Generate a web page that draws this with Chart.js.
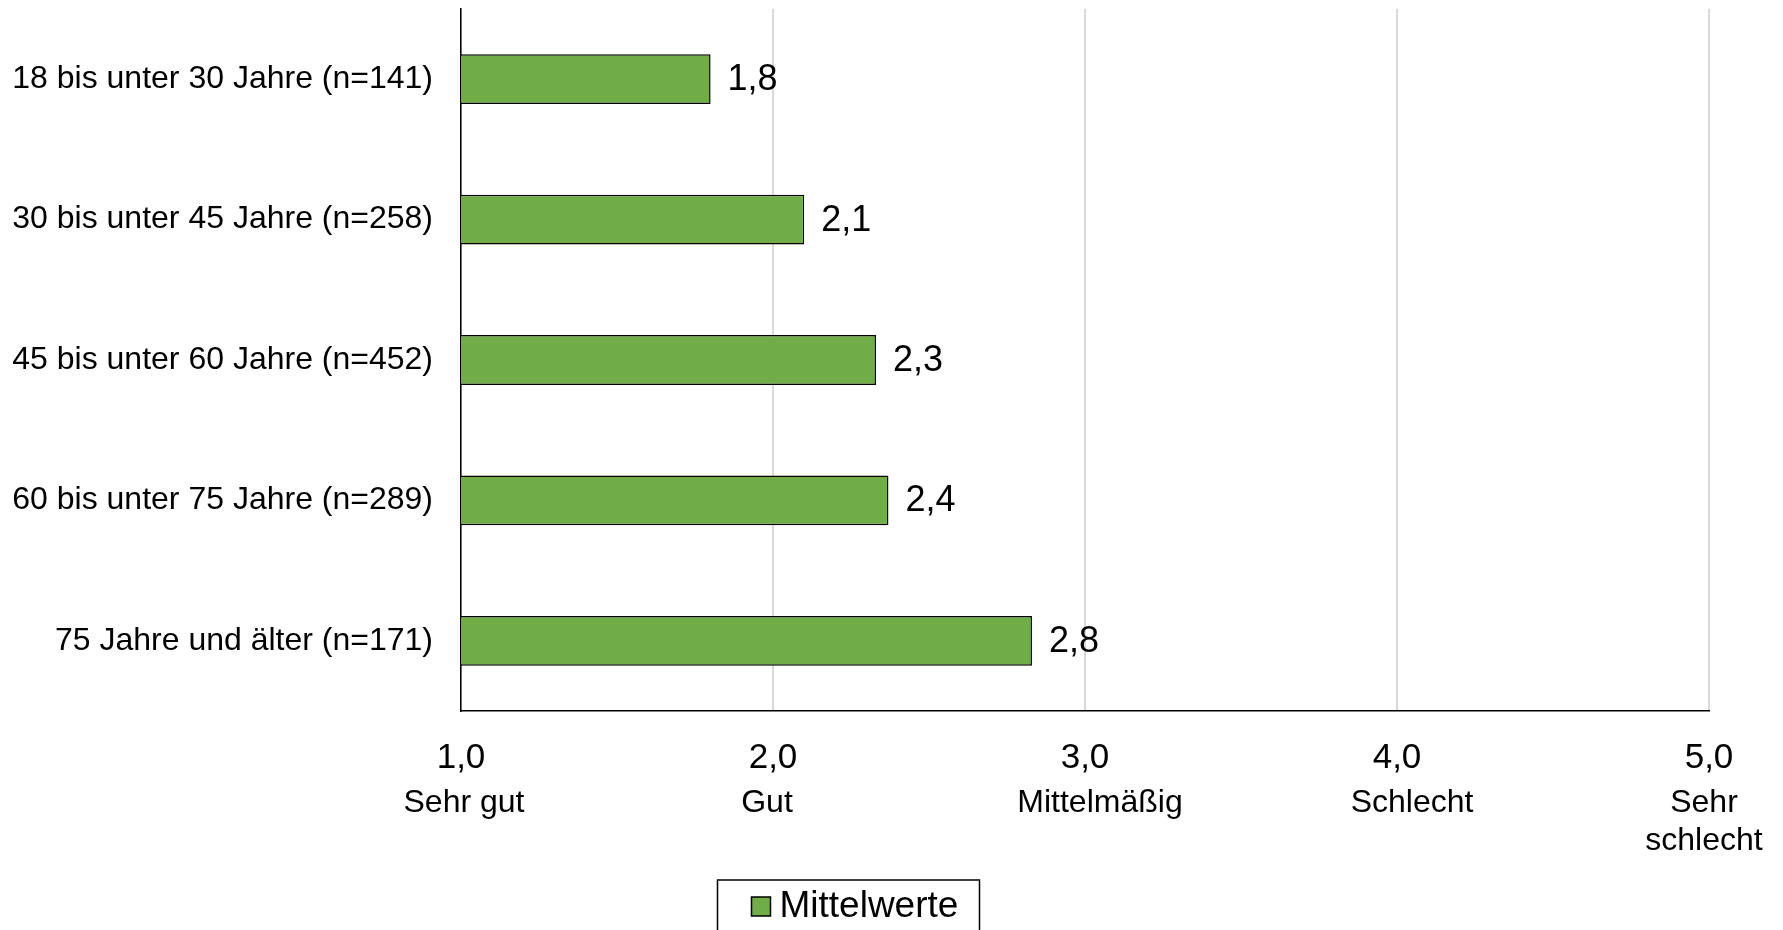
<!DOCTYPE html>
<html>
<head>
<meta charset="utf-8">
<script src="https://cdn.jsdelivr.net/npm/chart.js@4"></script>
<style>
  body { margin: 0; background: #fff; }
  canvas { display: block; }
</style>
</head>
<body>
<canvas id="grafico" width="1783" height="930"></canvas>
<script>
// dados do grafico
var categorias = [
    '18 bis unter 30 Jahre (n=141)',
    '30 bis unter 45 Jahre (n=258)',
    '45 bis unter 60 Jahre (n=452)',
    '60 bis unter 75 Jahre (n=289)',
    '75 Jahre und älter (n=171)'
];
var mittelwerte = [1.80, 2.10, 2.33, 2.37, 2.83];
var valores_eixo = [1, 2, 3, 4, 5];
var rotulos_eixo = [['Sehr gut'], ['Gut'], ['Mittelmäßig'], ['Schlecht'], ['Sehr', 'schlecht']];
var nome_serie = 'Mittelwerte';

var fonte = '"Liberation Sans", Arial, sans-serif';
var verde = '#70ad47';

function virgula(v) {
    return v.toFixed(1).replace('.', ',');
}

// valores ao lado das barras
var rotulosBarras = {
    id: 'rotulosBarras',
    afterDatasetsDraw: function (chart) {
        var ctx = chart.ctx;
        var meta = chart.getDatasetMeta(0);
        ctx.save();
        ctx.font = '36px ' + fonte;
        ctx.fillStyle = '#000';
        ctx.textAlign = 'left';
        ctx.textBaseline = 'middle';
        meta.data.forEach(function (bar, i) {
            ctx.fillText(virgula(mittelwerte[i]), bar.x + 17, bar.y + 1);
        });
        ctx.restore();
    }
};

// textos abaixo dos numeros do eixo x + legenda com borda
var extras = {
    id: 'extras',
    afterDraw: function (chart) {
        var ctx = chart.ctx;
        var x = chart.scales.x;
        var base = chart.chartArea.bottom;
        // pequenos deslocamentos como no original
        var desloc = [3, -6, 15, 15, -5];
        ctx.save();
        ctx.font = '32px ' + fonte;
        ctx.fillStyle = '#000';
        ctx.textAlign = 'center';
        ctx.textBaseline = 'middle';
        valores_eixo.forEach(function (v, i) {
            var px = x.getPixelForValue(v) + desloc[i];
            rotulos_eixo[i].forEach(function (linha, j) {
                ctx.fillText(linha, px, base + 92 + j * 38);
            });
        });

        // legenda
        var cx = chart.width / 2 - 43;
        var topo = base + 169;
        ctx.font = '37px ' + fonte;
        var larg = 262;
        ctx.strokeStyle = '#000';
        ctx.lineWidth = 1.5;
        ctx.strokeRect(cx - larg / 2, topo, larg, 80);
        var qx = cx - larg / 2 + 34;
        ctx.fillStyle = verde;
        ctx.fillRect(qx, topo + 17, 19, 19);
        ctx.strokeRect(qx, topo + 17, 19, 19);
        ctx.fillStyle = '#000';
        ctx.textAlign = 'left';
        ctx.fillText(nome_serie, qx + 28, topo + 27);
        ctx.restore();
    }
};

var ctx = document.getElementById('grafico').getContext('2d');
var myChart = new Chart(ctx, {
    type: 'bar',
    data: {
        labels: categorias,
        datasets: [
            {
                label: nome_serie,
                data: mittelwerte,
                backgroundColor: verde,
                borderColor: '#000',
                borderWidth: 1.5,
                borderSkipped: false,
                barPercentage: 0.355,
                categoryPercentage: 1
            }
        ]
    },
    options: {
        indexAxis: 'y',
        responsive: false,
        animation: false,
        layout: { padding: { top: 9, right: 74, left: 0, bottom: 0 } },
        plugins: {
            legend: { display: false },
            tooltip: { enabled: false }
        },
        scales: {
            x: {
                min: 1,
                max: 5,
                ticks: {
                    stepSize: 1,
                    padding: 26,
                    color: '#000',
                    font: { family: fonte, size: 35 },
                    maxRotation: 0,
                    callback: function (v) { return virgula(v); }
                },
                grid: { color: '#d9d9d9', lineWidth: 2, drawTicks: false },
                border: { color: '#000', width: 1.5 },
                afterFit: function (scale) {
                    scale.height = 219;
                    scale.paddingLeft = 0;
                    scale.paddingRight = 0;
                }
            },
            y: {
                ticks: {
                    padding: 28,
                    color: '#000',
                    font: { family: fonte, size: 32 }
                },
                grid: { display: false, drawTicks: false },
                border: { color: '#000', width: 1.5 },
                afterFit: function (scale) {
                    scale.width = 461;
                    scale.paddingTop = 0;
                    scale.paddingBottom = 0;
                }
            }
        }
    },
    plugins: [rotulosBarras, extras]
});
</script>
</body>
</html>
